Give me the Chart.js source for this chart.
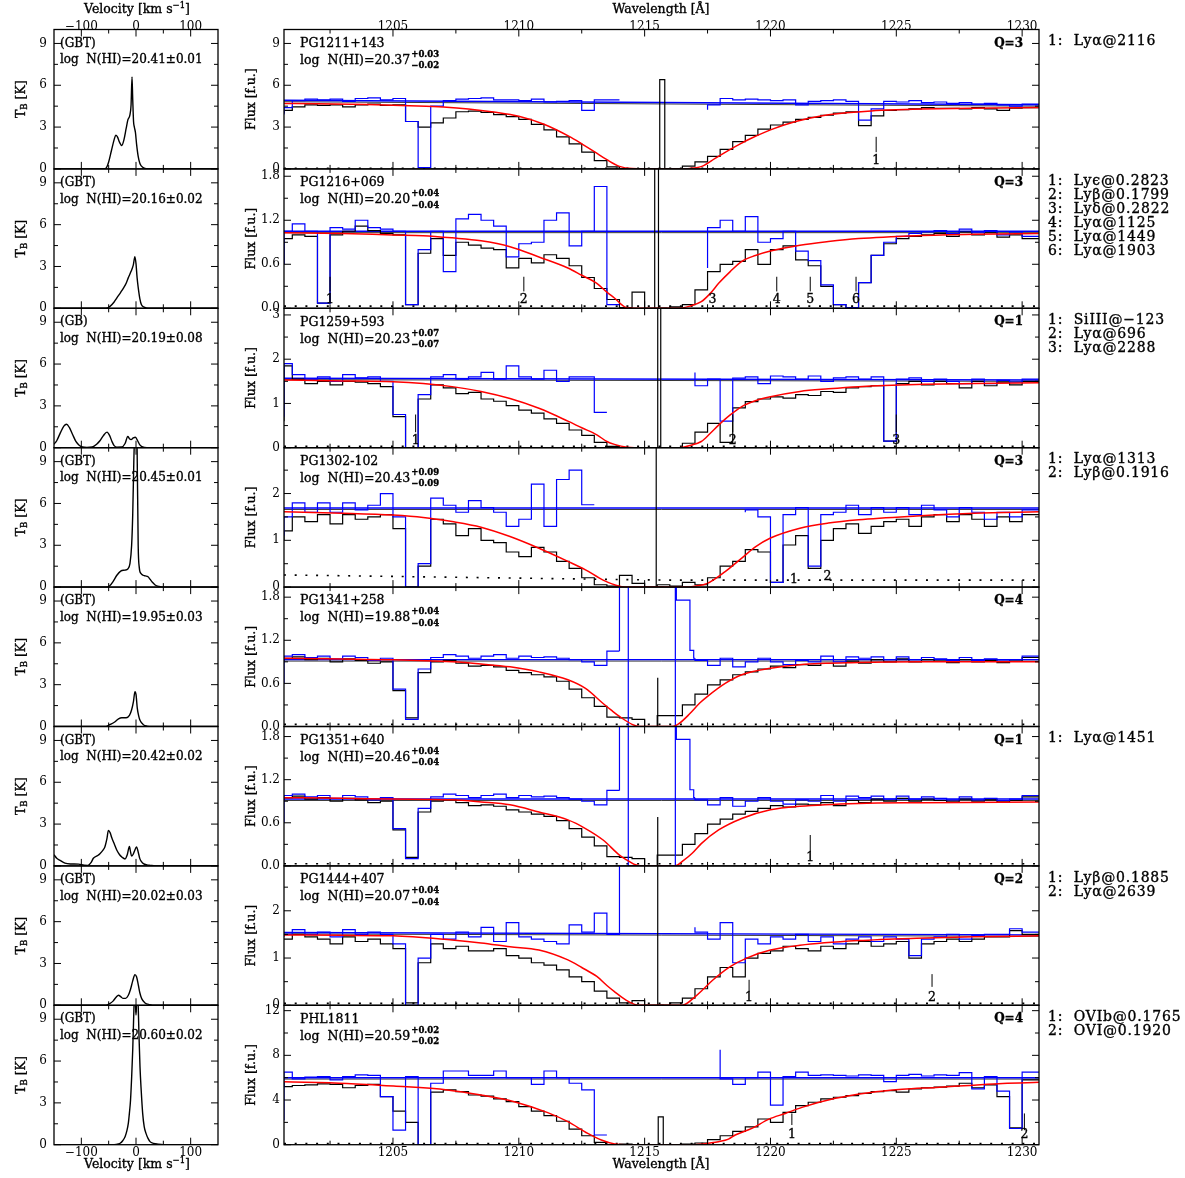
<!DOCTYPE html>
<html>
<head>
<meta charset="utf-8">
<script src="https://cdn.jsdelivr.net/npm/chart.js@4.4.1/dist/chart.umd.min.js"></script>
<style>
  body { margin: 0; background: #fff; width: 1185px; height: 1178px; position: relative; overflow: hidden; }
  canvas { position: absolute; }
</style>
</head>
<body>
<script>
// ---- layout of the 8 rows (page pixels) ----
const ROW_TOP = 29.5, ROW_H = 139.4;
const FONT = '"DejaVu Serif", "Liberation Serif", serif';

// ---- axes ----
const V_MIN = -150, V_MAX = 150;
const W_MIN = 1200.67, W_MAX = 1230.67;
const velTicks = [-100, 0, 100], velMinor = [-50, 50];
const tbTicks = [0, 3, 6, 9], tbMinor = [1.5, 4.5, 7.5];
const waveTicks = [1205, 1210, 1215, 1220, 1225, 1230];
const waveMinor = [1202.5, 1207.5, 1212.5, 1217.5, 1222.5, 1227.5];

// histogram bin left edges: first partial bin, then 0.5 A bins
const BIN_LEFT = [W_MIN];
for (let k = 0; k < 60; k++) BIN_LEFT.push(1201 + 0.5 * k);

// ---- labels ----
const qsoNames = ['PG1211+143', 'PG1216+069', 'PG1259+593', 'PG1302-102', 'PG1341+258', 'PG1351+640', 'PG1444+407', 'PHL1811'];
const qsoLogN = ['20.37', '20.20', '20.23', '20.43', '19.88', '20.46', '20.07', '20.59'];
const qsoErrUp = ['+0.03', '+0.04', '+0.07', '+0.09', '+0.04', '+0.04', '+0.04', '+0.02'];
const qsoErrDn = ['\u22120.02', '\u22120.04', '\u22120.07', '\u22120.09', '\u22120.04', '\u22120.04', '\u22120.04', '\u22120.02'];
const qualities = ['Q=3', 'Q=3', 'Q=1', 'Q=3', 'Q=4', 'Q=1', 'Q=2', 'Q=4'];
const radioTel = ['(GBT)', '(GBT)', '(GB)', '(GBT)', '(GBT)', '(GBT)', '(GBT)', '(GBT)'];
const radioLogN = ['20.41\u00b10.01', '20.16\u00b10.02', '20.19\u00b10.08', '20.45\u00b10.01', '19.95\u00b10.03', '20.42\u00b10.02', '20.02\u00b10.03', '20.60\u00b10.02'];
const lineIds = [
  ['1:  Ly\u03b1@2116'],
  ['1:  Ly\u03f5@0.2823', '2:  Ly\u03b2@0.1799', '3:  Ly\u03b4@0.2822', '4:  Ly\u03b1@1125', '5:  Ly\u03b1@1449', '6:  Ly\u03b1@1903'],
  ['1:  SiIII@\u2212123', '2:  Ly\u03b1@696', '3:  Ly\u03b1@2288'],
  ['1:  Ly\u03b1@1313', '2:  Ly\u03b2@0.1916'],
  [],
  ['1:  Ly\u03b1@1451'],
  ['1:  Ly\u03b2@0.1885', '2:  Ly\u03b1@2639'],
  ['1:  OVIb@0.1765', '2:  OVI@0.1920']
];

// ---- flux axes of the spectra ----
const fluxMax = [10, 1.9, 3.15, 2.98, 1.94, 1.94, 2.95, 12.48];
const fluxTicks = [[0, 3, 6, 9], [0, 0.6, 1.2, 1.8], [0, 1, 2, 3], [0, 1, 2], [0, 0.6, 1.2, 1.8], [0, 0.6, 1.2, 1.8], [0, 1, 2], [0, 4, 8, 12]];
const fluxMinor = [[1.5, 4.5, 7.5], [0.3, 0.9, 1.5], [0.5, 1.5, 2.5], [0.5, 1.5, 2.5], [0.3, 0.9, 1.5], [0.3, 0.9, 1.5], [0.5, 1.5, 2.5], [2, 6, 10]];
const fluxDigits = [0, 1, 0, 0, 1, 1, 0, 0];
const contLevel = [[4.92, 4.6], [1.05, 1.05], [1.57, 1.53], [1.69, 1.69], [0.93, 0.93], [0.93, 0.93], [1.54, 1.49], [6.0, 6.0]];
const errLevel = [[0.05, 0.05, 0.05], [0.03, 0.03, 0.03], [0.03, 0.03, 0.03], [0.26, 0.15, 0.15], [0.03, 0.03, 0.03], [0.03, 0.03, 0.03], [0.04, 0.04, 0.04], [0.1, 0.1, 0.1]];

// ---- observed flux (black), bins of BIN_LEFT ----
const flux1 = [4.0,
  4.2, 4.45, 4.6, 4.55, 4.6, 4.45, 4.6, 4.65, 4.55, 4.6,
  3.4, 3.0, 3.3, 3.65, 4.1, 4.15, 4.05, 3.9, 3.75, 3.55,
  3.2, 2.8, 2.3, 1.8, 1.2, 0.6, 0.15, 0.02, 0, 0,
  0, 0.02, 0.2, 0.5, 0.9, 1.4, 1.95, 2.4, 2.85, 3.15,
  3.35, 3.55, 3.7, 3.85, 4.0, 4.1, 3.1, 3.8, 4.2, 4.25,
  4.3, 4.4, 4.35, 4.35, 4.3, 4.4, 4.3, 4.2, 4.35, 4.4];
const flux2 = [0.6,
  0.95, 1.0, 0.98, 0.07, 1.0, 1.05, 1.12, 1.06, 1.02, 1.0,
  0.05, 0.75, 0.95, 0.72, 0.9, 0.86, 0.82, 0.8, 0.55, 0.68,
  0.62, 0.73, 0.68, 0.58, 0.42, 0.27, 0.12, 0.01, 0.22, 0,
  0, 0.02, 0.05, 0.25, 0.5, 0.6, 0.64, 0.8, 0.6, 0.8,
  0.85, 0.66, 0.58, 0.3, 0.05, 0.01, 0.35, 0.72, 0.88, 0.95,
  0.98, 1.0, 1.02, 0.98, 1.04, 1.0, 1.03, 0.97, 1.0, 0.95];
const flux3 = [0.6,
  1.85, 1.55, 1.45, 1.5, 1.42, 1.5, 1.48, 1.45, 1.38, 0.7,
  0, 1.1, 1.42, 1.35, 1.22, 1.25, 1.1, 1.05, 0.95, 0.85,
  0.78, 0.65, 0.55, 0.4, 0.28, 0.12, 0.03, 0, 0, 0,
  0, 0, 0.1, 0.35, 0.55, 0.12, 0.9, 1.04, 1.1, 1.15,
  1.12, 1.2, 1.18, 1.27, 1.25, 1.35, 1.38, 1.4, 0.15, 1.45,
  1.5, 1.42, 1.5, 1.45, 1.35, 1.5, 1.4, 1.48, 1.42, 1.5];
const flux4 = [1.0,
  1.2, 1.5, 1.4, 1.55, 1.35, 1.55, 1.45, 1.5, 1.55, 1.25,
  0, 0.45, 1.45, 1.35, 1.1, 1.25, 1.0, 0.95, 0.75, 0.65,
  0.85, 0.75, 0.55, 0.4, 0.2, 0.05, 0.02, 0.25, 0.08, 0,
  0.05, 0.02, 0.1, 0.05, 0.2, 0.45, 0.55, 0.8, 0.75, 0.1,
  0.9, 1.1, 0.4, 1.0, 1.25, 1.35, 1.15, 1.3, 1.4, 1.45,
  1.3, 1.5, 1.55, 1.4, 1.55, 1.45, 1.3, 1.5, 1.4, 1.55];
const flux5 = [0.9,
  0.95, 0.97, 0.93, 0.95, 0.9, 0.94, 0.92, 0.88, 0.9, 0.5,
  0.12, 0.75, 0.9, 0.92, 0.88, 0.84, 0.85, 0.83, 0.78, 0.75,
  0.72, 0.69, 0.63, 0.52, 0.4, 0.28, 0.13, 0.12, 0.1, 0,
  0.15, 0.15, 0.3, 0.45, 0.58, 0.65, 0.72, 0.76, 0.8, 0.84,
  0.82, 0.86, 0.85, 0.88, 0.84, 0.91, 0.88, 0.93, 0.9, 0.94,
  0.9, 0.93, 0.91, 0.89, 0.93, 0.9, 0.92, 0.89, 0.91, 0.96];
const flux6 = flux5; // same spectrum plotted again with a different fit
const flux7 = [1.4,
  1.4, 1.5, 1.45, 1.4, 1.3, 1.45, 1.35, 1.4, 1.3, 1.2,
  0.05, 0.9, 1.3, 1.2, 1.25, 1.15, 1.15, 1.2, 1.05, 1.0,
  0.9, 0.85, 0.75, 0.6, 0.5, 0.3, 0.15, 0.05, 0.1, 0,
  0, 0.05, 0.15, 0.35, 0.6, 0.8, 0.6, 1.0, 1.1, 1.15,
  1.25, 1.2, 1.15, 1.25, 1.2, 1.3, 1.35, 1.25, 1.3, 1.35,
  1.0, 1.3, 1.35, 1.4, 1.35, 1.4, 1.45, 1.45, 1.58, 1.5];
const flux8 = [5.7,
  5.2, 5.3, 5.35, 5.45, 5.4, 5.1, 5.3, 5.4, 4.3, 3.0,
  2.0, 0, 4.7, 4.9, 4.75, 4.45, 4.35, 4.1, 3.85, 3.4,
  3.0, 2.6, 2.1, 1.4, 0.8, 0.2, 0.02, 0.05, 0, 0,
  0.02, 0.02, 0.05, 0.15, 0.45, 0.8, 1.2, 1.6, 2.3, 2.0,
  2.9, 3.5, 3.8, 4.1, 4.25, 4.4, 4.6, 4.75, 4.85, 4.7,
  5.0, 5.1, 5.15, 5.25, 5.5, 5.1, 5.35, 4.3, 1.5, 5.8];

// ---- flux divided by the damped profile (blue), null where undefined ----
const corr1 = [3.9,
  4.4, 4.9, 5.0, 4.95, 5.0, 4.85, 5.05, 5.1, 4.95, 5.05,
  3.4, 0.1, 4.5, 4.9, 5.0, 5.05, 5.1, 4.95, 4.95, 4.9,
  5.0, 4.8, 4.85, 4.9, 4.2, 4.95, 4.95, null, null, null,
  null, null, null, 4.25, 4.6, 5.05, 4.95, 5.0, 4.95, 4.9,
  4.95, 4.6, 4.85, 4.9, 4.95, 4.85, 3.5, 4.3, 4.85, 4.8,
  4.9, 4.75, 4.8, 4.7, 4.75, 4.65, 4.7, 4.6, 4.5, 4.65];
const corr2 = [0.6,
  1.05, 1.15, 1.05, 0.07, 1.1, 1.08, 1.2, 1.1, 1.08, 1.05,
  0.05, 0.8, 1.05, 0.5, 1.22, 1.28, 1.2, 1.12, 0.7, 0.88,
  0.9, 1.2, 1.3, 0.85, 1.05, 1.66, 0.05, null, null, null,
  null, null, null, 0.55, 1.1, 1.2, 1.05, 1.25, 0.9, 0.95,
  1.05, 0.78, 0.65, 0.32, 0.05, 0.01, 0.35, 0.72, 0.9, 0.98,
  1.02, 1.04, 1.06, 1.02, 1.08, 1.03, 1.06, 1.0, 1.04, 0.98];
const corr3 = [0.7,
  1.9, 1.65, 1.55, 1.6, 1.5, 1.65, 1.58, 1.6, 1.5, 0.75,
  0, 1.2, 1.6, 1.65, 1.55, 1.6, 1.7, 1.55, 1.85, 1.6,
  1.55, 1.75, 1.5, 1.6, 1.6, 0.8, null, null, null, null,
  null, null, 1.7, 1.4, 1.55, 0.6, 1.57, 1.6, 1.45, 1.62,
  1.6, 1.55, 1.62, 1.5, 1.58, 1.6, 1.55, 1.6, 0.15, 1.55,
  1.58, 1.5, 1.55, 1.5, 1.45, 1.55, 1.45, 1.52, 1.48, 1.55];
const corr4 = [1.1,
  1.5, 1.8, 1.6, 1.8, 1.6, 1.8, 1.65, 1.75, 2.0, 1.5,
  0, 0.5, 1.9, 1.75, 1.6, 1.85, 1.7, 1.6, 1.3, 1.45,
  2.2, 1.3, 2.3, 2.5, 1.76, null, null, null, null, null,
  null, null, null, null, null, null, 1.6, 1.65, 1.5, 0.1,
  1.55, 1.7, 0.45, 1.55, 1.6, 1.75, 1.55, 1.7, 1.6, 1.7,
  1.55, 1.75, 1.65, 1.5, 1.7, 1.6, 1.45, 1.6, 1.5, 1.65];
const corr5 = [0.6,
  0.98, 1.0, 0.96, 0.98, 0.94, 0.98, 0.96, 0.92, 0.95, 0.52,
  0.1, 0.8, 0.96, 1.0, 0.98, 0.95, 0.98, 1.0, 0.95, 0.98,
  0.96, 0.97, 0.95, 0.93, 0.9, 0.85, 1.05, null, null, null,
  null, null, 0.95, 0.92, 0.85, 0.95, 0.83, 0.9, 0.95, 0.9,
  0.86, 0.92, 0.9, 0.98, 0.9, 0.97, 0.95, 0.97, 0.93, 0.97,
  0.93, 0.96, 0.94, 0.92, 0.96, 0.92, 0.94, 0.91, 0.93, 0.98];
const corr6 = corr5;
const corr7 = [1.45,
  1.5, 1.6, 1.5, 1.55, 1.45, 1.6, 1.5, 1.55, 1.5, 1.3,
  0, 1.0, 1.5, 1.4, 1.55, 1.45, 1.65, 1.35, 1.75, 1.45,
  1.4, 1.35, 1.3, 1.7, 1.55, 1.95, 1.5, 5, null, null,
  null, null, 1.65, 1.55, 1.4, 1.75, 0.9, 1.4, 1.3, 1.45,
  1.4, 1.5, 1.35, 1.45, 1.3, 1.4, 1.45, 1.35, 1.45, 1.4,
  1.05, 1.4, 1.45, 1.5, 1.4, 1.48, 1.5, 1.5, 1.62, 1.55];
const corr8 = [2.2,
  6.5, 5.9, 6.05, 6.1, 5.8, 6.1, 6.25, 6.2, 4.3, 1.3,
  6.1, 0, 5.5, 6.6, 6.6, 6.2, 6.2, 6.6, 6.0, 6.0,
  5.4, 6.6, 6.0, 5.5, 4.9, 0.87, null, null, null, null,
  null, null, null, null, 8.5, 5.9, 5.4, 6.0, 6.5, 3.55,
  6.1, 6.5, 6.2, 6.25, 6.2, 6.15, 6.25, 6.2, 5.65, 6.2,
  6.3, 6.15, 6.25, 6.2, 6.45, 5.0, 6.1, 4.8, 1.45, 6.5];
// blue through the line core of PG1341+258 / PG1351+640 (runs off the top)
const coreW5 = [1214.0, 1214.35, 1216.22, 1216.26, 1216.8, 1216.95, 1217.0];
const coreF5 = [1.05, 3, 0, 3, 1.76, 1.06, 0.95];

// ---- geocoronal emission spikes (black) ----
const spikeW = [
  [1215.6, 1215.6, 1215.8, 1216.0], [1215.4, 1215.4, 1215.55, 1215.9], [1215.52, 1215.52, 1215.64, 1215.92],
  [1215.46, 1215.46, 1215.76], [1215.52, 1215.52, 1215.69], [1215.52, 1215.52, 1215.69],
  [1215.52, 1215.52, 1215.76], [1215.54, 1215.54, 1215.74, 1215.94]];
const spikeF = [
  [0, 5.35, 6.4, 0], [0, 0.59, 5, 0], [0, 1.27, 5, 0],
  [0, 5, 0], [0, 0.68, 0], [0, 0.68, 0],
  [0, 5, 0], [0, 1.46, 2.5, 0]];

// ---- damped Lya fits (red) ----
const fitW1 = [1200.67, 1202, 1204, 1206, 1207, 1208, 1209, 1210, 1211, 1212, 1212.5, 1213, 1213.5, 1214, 1214.5, 1215, 1216.3, 1216.8, 1217.3, 1217.8, 1218.3, 1218.8, 1219.3, 1220, 1221, 1222, 1223, 1224, 1225, 1226, 1228, 1230.67];
const fitF1 = [4.7, 4.68, 4.62, 4.52, 4.44, 4.3, 4.08, 3.78, 3.2, 2.33, 1.8, 1.24, 0.66, 0.18, 0.02, 0, 0, 0.03, 0.2, 0.75, 1.3, 1.8, 2.25, 2.8, 3.4, 3.8, 4.02, 4.16, 4.24, 4.29, 4.35, 4.4];
const fitW2 = [1200.67, 1203, 1205, 1206.2, 1207.35, 1208.5, 1209.65, 1210.8, 1211.95, 1212.5, 1213.1, 1213.5, 1213.8, 1214.26, 1214.6, 1216.3, 1216.8, 1217.25, 1217.6, 1217.94, 1218.4, 1218.86, 1219.4, 1220, 1221.17, 1222.3, 1223.5, 1225.8, 1228.1, 1230.67];
const fitF2 = [1.03, 1.02, 1.0, 0.99, 0.96, 0.92, 0.84, 0.7, 0.55, 0.45, 0.34, 0.22, 0.14, 0.01, 0, 0, 0.03, 0.09, 0.2, 0.34, 0.5, 0.64, 0.72, 0.78, 0.86, 0.91, 0.95, 0.99, 1.01, 1.02];
const fitW3 = [1200.67, 1203, 1205, 1206.2, 1207.35, 1208.5, 1209.65, 1210.8, 1211.95, 1212.5, 1213.1, 1213.5, 1213.8, 1214.3, 1214.6, 1216.4, 1216.8, 1217.25, 1217.6, 1217.94, 1218.4, 1218.86, 1219.4, 1220, 1221.17, 1222.3, 1223.5, 1225.8, 1228.1, 1230.67];
const fitF3 = [1.53, 1.51, 1.49, 1.45, 1.38, 1.27, 1.11, 0.89, 0.6, 0.45, 0.29, 0.14, 0.075, 0.01, 0, 0, 0.05, 0.14, 0.32, 0.51, 0.74, 0.93, 1.06, 1.15, 1.27, 1.33, 1.38, 1.43, 1.45, 1.47];
const fitW4 = [1200.67, 1203, 1205, 1206.2, 1207.35, 1208.5, 1209.65, 1210.8, 1211.95, 1212.65, 1213.35, 1214.0, 1214.5, 1216.6, 1217.0, 1217.5, 1218.2, 1218.86, 1219.4, 1220, 1221.17, 1222.3, 1223.5, 1225.8, 1228.1, 1230.67];
const fitF4 = [1.61, 1.58, 1.54, 1.49, 1.4, 1.28, 1.08, 0.83, 0.55, 0.37, 0.15, 0.02, 0, 0, 0.02, 0.08, 0.33, 0.62, 0.86, 1.05, 1.26, 1.37, 1.44, 1.52, 1.58, 1.61];
const fitW5 = [1200.67, 1203, 1205, 1207.35, 1208.5, 1209.65, 1210.8, 1211.95, 1212.65, 1213.35, 1213.7, 1214.0, 1214.5, 1214.8, 1216.1, 1216.4, 1216.8, 1217.2, 1217.5, 1218.2, 1218.86, 1220, 1221.17, 1223.5, 1226, 1230.67];
const fitF5 = [0.95, 0.94, 0.93, 0.9, 0.87, 0.83, 0.76, 0.65, 0.53, 0.32, 0.22, 0.14, 0.03, 0, 0, 0.05, 0.18, 0.33, 0.42, 0.6, 0.72, 0.81, 0.86, 0.89, 0.9, 0.9];
const fitW6 = [1200.67, 1203, 1205, 1207.35, 1208.5, 1209.65, 1210.8, 1211.95, 1212.65, 1213.35, 1214.0, 1214.3, 1214.6, 1214.9, 1216.2, 1216.56, 1216.9, 1217.25, 1217.94, 1218.86, 1220, 1221.17, 1223.5, 1226, 1230.67];
const fitF6 = [0.95, 0.94, 0.93, 0.92, 0.89, 0.85, 0.75, 0.64, 0.52, 0.36, 0.15, 0.08, 0.02, 0, 0, 0.08, 0.18, 0.31, 0.5, 0.66, 0.78, 0.83, 0.87, 0.88, 0.89];
const fitW7 = [1200.67, 1203, 1205, 1207.35, 1208.5, 1209.65, 1210.8, 1211.95, 1212.5, 1213.1, 1213.5, 1213.8, 1214.26, 1214.6, 1214.9, 1216.5, 1217.0, 1217.35, 1217.7, 1218.4, 1219.1, 1220, 1221.17, 1223.5, 1225.8, 1228.1, 1230.67];
const fitF7 = [1.49, 1.48, 1.47, 1.38, 1.32, 1.24, 1.17, 0.96, 0.8, 0.61, 0.42, 0.29, 0.11, 0.02, 0, 0, 0.18, 0.35, 0.53, 0.82, 1.01, 1.17, 1.27, 1.37, 1.42, 1.45, 1.47];
const fitW8 = [1200.67, 1203.17, 1205.03, 1207.16, 1208.5, 1209.82, 1211.15, 1211.95, 1212.74, 1213.28, 1213.81, 1214.2, 1217.0, 1217.26, 1217.6, 1217.93, 1218.33, 1218.6, 1219.26, 1219.92, 1220.59, 1221.25, 1222.58, 1223.91, 1225.24, 1226.57, 1227.9, 1229.23, 1230.67];
const fitF8 = [5.64, 5.49, 5.25, 4.9, 4.45, 3.85, 2.87, 2.06, 1.01, 0.42, 0.06, 0, 0, 0.05, 0.15, 0.27, 0.5, 0.87, 1.46, 2.27, 2.8, 3.34, 4.15, 4.66, 4.96, 5.13, 5.31, 5.49, 5.58];

// ---- absorption line markers ----
const markW = [[1224.2], [1202.5, 1210.2, 1217.7, 1220.25, 1221.58, 1223.4], [1205.9, 1218.5, 1225.0], [1220.93, 1222.27], [], [1221.58], [1219.15, 1226.42], [1220.85, 1230.09]];
const markLo = [[1.2], [0.23, 0.23, null, 0.23, 0.23, 0.23], [0.35, 0.35, 0.35], [null, null], [], [0.2], [0.29, 0.39], [1.76, 1.3]];
const markHi = [[2.3], [0.43, 0.43, null, 0.43, 0.43, 0.43], [0.75, 0.75, 0.75], [null, null], [], [0.43], [0.54, 0.66], [2.8, 2.8]];
const markY = [[0.6], [0.12, 0.12, 0.12, 0.12, 0.12, 0.12], [0.15, 0.15, 0.15], [0.15, 0.22], [], [0.12], [0.15, 0.15], [0.85, 0.85]];

// ---- 21 cm emission profiles ----
const vel1 = [-150, -60, -55, -50, -45, -40, -37, -34, -30, -26, -22, -18, -15, -11, -9, -7.3, -6, -4.5, -3, -1, 1, 4, 7, 10, 15, 22, 150];
const tb1 = [0, 0, 0.05, 0.5, 1.3, 2.1, 2.42, 2.3, 1.9, 1.68, 2.1, 2.9, 3.5, 3.9, 4.6, 6.6, 5.0, 3.4, 3.0, 2.6, 1.8, 0.9, 0.4, 0.2, 0.05, 0, 0];
const vel2 = [-150, -55, -48, -40, -35, -28, -23, -18, -14, -9, -5, -2, 0, 2, 4, 7, 10, 15, 22, 150];
const tb2 = [0, 0, 0.12, 0.45, 0.75, 1.15, 1.45, 1.8, 2.2, 2.65, 3.1, 3.7, 3.2, 2.2, 1.5, 0.7, 0.25, 0.08, 0, 0];
const vel3 = [-150, -145, -138, -132, -127, -122, -116, -110, -104, -98, -90, -80, -72, -66, -60, -53, -48, -44, -40, -35, -26, -20, -15, -12, -9, -5, -1, 3, 7, 12, 20, 150];
const tb3 = [0.25, 0.5, 1.1, 1.55, 1.68, 1.45, 0.95, 0.45, 0.18, 0.05, 0.02, 0.05, 0.25, 0.5, 0.85, 1.12, 0.85, 0.45, 0.15, 0.04, 0.05, 0.3, 0.8, 0.65, 0.58, 0.7, 0.75, 0.5, 0.2, 0.05, 0, 0];
const vel4 = [-150, -55, -48, -42, -35, -28, -20, -15, -11, -8, -6, -4, -2, 0, 2, 4, 6, 9, 13, 17, 22, 26, 30, 35, 42, 50, 150];
const tb4 = [0, 0, 0.1, 0.4, 0.85, 1.15, 1.22, 1.3, 1.7, 3.0, 5.2, 9, 11.5, 12, 10, 3.0, 1.4, 0.98, 0.85, 0.8, 0.74, 0.55, 0.35, 0.15, 0.04, 0, 0];
const vel5 = [-150, -55, -48, -39, -32, -26, -18, -12, -8, -4.6, -2, 0, 2.4, 5, 7.3, 13.5, 20, 30, 150];
const tb5 = [0, 0, 0.13, 0.32, 0.55, 0.63, 0.63, 0.8, 1.2, 1.8, 2.5, 2.3, 1.3, 0.75, 0.45, 0.13, 0.03, 0, 0];
const vel6 = [-150, -145, -139, -130, -120, -105, -95, -88, -82, -78, -70, -66, -60, -57, -53, -50.5, -47, -44.6, -40, -35, -30, -26, -20, -16, -12, -10, -8, -5, -3, 1, 4, 7, 10, 13.5, 20, 26, 35, 150];
const tb6 = [0.8, 0.55, 0.4, 0.2, 0.14, 0.13, 0.05, 0.04, 0.25, 0.55, 0.75, 0.88, 1.15, 1.36, 2.0, 2.55, 2.35, 2.05, 1.6, 1.12, 0.8, 0.64, 0.5, 0.8, 1.4, 1.0, 0.7, 0.85, 1.04, 1.36, 1.0, 0.52, 0.3, 0.16, 0.07, 0.04, 0, 0];
const vel7 = [-150, -55, -48, -42, -36, -32, -28, -24, -19, -14, -10, -6, -2, 1, 4.3, 7, 10.4, 16.5, 25, 35, 150];
const tb7 = [0, 0, 0.12, 0.3, 0.6, 0.72, 0.62, 0.5, 0.5, 0.72, 1.15, 1.75, 2.2, 2.05, 1.45, 0.9, 0.48, 0.17, 0.05, 0, 0];
const vel8 = [-150, -40, -32, -29, -24, -20, -17, -14, -12, -10, -8, -6, -4, -2.5, -1, 0, 1, 2.5, 4, 5.5, 7.3, 9.5, 12.2, 15, 18.3, 22, 25.7, 32, 40, 50, 150];
const tb8 = [0, 0, 0.05, 0.1, 0.3, 0.57, 0.95, 1.55, 2.3, 3.2, 4.8, 6.8, 9.5, 11, 10.2, 9.3, 10.2, 11, 10, 7.8, 5.6, 3.9, 2.25, 1.3, 0.81, 0.45, 0.22, 0.1, 0.04, 0, 0];

const velData = [[vel1, tb1], [vel2, tb2], [vel3, tb3], [vel4, tb4], [vel5, tb5], [vel6, tb6], [vel7, tb7], [vel8, tb8]];
const fluxData = [flux1, flux2, flux3, flux4, flux5, flux6, flux7, flux8];
const corrData = [corr1, corr2, corr3, corr4, corr5, corr6, corr7, corr8];
const fitData = [[fitW1, fitF1], [fitW2, fitF2], [fitW3, fitF3], [fitW4, fitF4], [fitW5, fitF5], [fitW6, fitF6], [fitW7, fitF7], [fitW8, fitF8]];

// ---------------------------------------------------------------
const zip = (xs, ys) => xs.map((x, i) => ({ x: x, y: ys[i] }));
function histPoints(vals) {
  const pts = vals.map((v, k) => ({ x: BIN_LEFT[k], y: v }));
  pts.push({ x: W_MAX, y: vals[vals.length - 1] });
  return pts;
}
const fnt = (size, weight) => (weight || 'normal') + ' ' + size + 'px ' + FONT;

// text with a hairline stroke, closer to the heavy plotter lettering
function txt(ctx, s, x, y, size, align, weight, spacing) {
  ctx.font = fnt(size, weight);
  ctx.textAlign = align || 'left';
  ctx.textBaseline = 'middle';
  ctx.letterSpacing = spacing || '0px';
  ctx.lineWidth = 0.35;
  ctx.fillText(s, x, y);
  ctx.strokeText(s, x, y);
  const w = ctx.measureText(s).width;
  ctx.letterSpacing = '0px';
  return w;
}
// sequence of text pieces; each piece [text, size, dy]
function richLine(ctx, pieces, x, y) {
  let cx = x;
  pieces.forEach(([s, size, dy]) => {
    cx += txt(ctx, s, cx, y + dy, size);
  });
  return cx - x;
}
function richWidth(ctx, pieces) {
  let w = 0;
  pieces.forEach(([s, size]) => { ctx.font = fnt(size); w += ctx.measureText(s).width; });
  return w;
}
function centeredRich(ctx, pieces, cx, cy, rotate) {
  ctx.save();
  ctx.translate(cx, cy);
  if (rotate) ctx.rotate(-Math.PI / 2);
  richLine(ctx, pieces, -richWidth(ctx, pieces) / 2, 0);
  ctx.restore();
}

function framePlugin(info) {
  return {
    id: 'pgframe',
    afterDatasetsDraw(chart) {
      const ctx = chart.ctx, a = chart.chartArea;
      const xs = chart.scales.x, ys = chart.scales.y;
      ctx.save();
      ctx.strokeStyle = '#000';
      ctx.fillStyle = '#000';
      ctx.lineWidth = 1;
      ctx.beginPath();
      const seg = (x0, y0, x1, y1) => { ctx.moveTo(x0, y0); ctx.lineTo(x1, y1); };
      [[info.xMajor, 7], [info.xMinor, 4]].forEach(([vals, len]) => vals.forEach(v => {
        const px = xs.getPixelForValue(v);
        seg(px, a.bottom, px, a.bottom - len);
        seg(px, a.top, px, a.top + len);
      }));
      [[info.yMajor, 7], [info.yMinor, 4]].forEach(([vals, len]) => vals.forEach(v => {
        const py = ys.getPixelForValue(v);
        seg(a.left, py, a.left + len, py);
        seg(a.right, py, a.right - len, py);
      }));
      ctx.stroke();
      ctx.lineWidth = 1.3;
      ctx.strokeRect(a.left, a.top, a.right - a.left, a.bottom - a.top);
      info.draw(ctx, chart, xs, ys);
      ctx.restore();
    }
  };
}

function axisCfg(pos, min, max, ticks, show, size, labelFmt, pad) {
  return {
    type: 'linear', position: pos, min: min, max: max,
    grid: { display: false, drawTicks: false }, border: { display: false },
    ticks: { display: show, color: '#000', font: { family: FONT, size: 12 }, padding: pad, maxRotation: 0, autoSkip: false,
             callback: labelFmt },
    afterBuildTicks: s => { s.ticks = ticks.map(v => ({ value: v })); },
    afterFit: s => { if (pos === 'left') s.width = size; else s.height = size; }
  };
}

function makeCanvas(left, top, w, h) {
  const c = document.createElement('canvas');
  c.width = w; c.height = h;
  c.style.left = left + 'px'; c.style.top = top + 'px';
  c.style.width = w + 'px'; c.style.height = h + 'px';
  document.body.appendChild(c);
  return c;
}

const minusFmt = v => String(v).replace('-', '\u2212');

for (let i = 0; i < 8; i++) {
  const T = ROW_TOP + i * ROW_H, B = T + ROW_H;
  const cTop = Math.floor(T) - 32, cH = 215;
  const topH = T - cTop, botH = cTop + cH - B;
  const first = i === 0, last = i === 7;

  // ----- left: 21 cm profile -----
  const lLeft = 0, lW = 240;
  const [vel, tb] = velData[i];
  new Chart(makeCanvas(lLeft, cTop, lW, cH), {
    type: 'line',
    data: { datasets: [{
      data: zip(vel, tb), xAxisID: 'x', yAxisID: 'y',
      borderColor: '#000', borderWidth: 1.4, cubicInterpolationMode: 'monotone', pointRadius: 0
    }] },
    options: {
      responsive: false, animation: false, devicePixelRatio: 1, events: [],
      layout: { padding: { right: lW - 218, left: 0, top: 0, bottom: 0 } },
      plugins: { legend: { display: false }, tooltip: { enabled: false } },
      scales: {
        x: axisCfg('bottom', V_MIN, V_MAX, velTicks, last, botH, minusFmt, 1),
        xTop: axisCfg('top', V_MIN, V_MAX, velTicks, first, topH, minusFmt, -5),
        y: axisCfg('left', 0, 10, tbTicks, true, 54, v => String(v), 7)
      }
    },
    plugins: [framePlugin({
      xMajor: velTicks, xMinor: velMinor, yMajor: tbTicks, yMinor: tbMinor,
      draw(ctx) {
        const oy = -cTop;
        txt(ctx, radioTel[i], 60, T + 14 + oy, 12);
        txt(ctx, 'log  N(HI)=' + radioLogN[i], 60, T + 30.5 + oy, 12);
        centeredRich(ctx, [['T', 12.5, 0], ['B', 8.5, 3], [' [K]', 12.5, 0]], 22, T + ROW_H / 2 + oy, true);
        const vt = [['Velocity [km s', 12.5, 0], ['\u22121', 8.5, -4], [']', 12.5, 0]];
        if (first) centeredRich(ctx, vt, 137, 9.5 + oy, false);
        if (last) centeredRich(ctx, vt, 137, 1164.5 + oy, false);
      }
    })]
  });

  // ----- right: spectrum -----
  const rLeft = 222, rW = 1185 - 222;
  const ds = [];
  ds.push({ data: zip(fitData[i][0], fitData[i][1]), borderColor: '#ff0000', borderWidth: 1.5, cubicInterpolationMode: 'monotone' });
  if (i === 4 || i === 5) ds.push({ data: zip(coreW5, coreF5), borderColor: '#0000ff', borderWidth: 1.2, stepped: 'after' });
  ds.push({ data: histPoints(corrData[i]), borderColor: '#0000ff', borderWidth: 1.2, stepped: 'after', spanGaps: false });
  ds.push({ data: zip(spikeW[i], spikeF[i]), borderColor: '#000', borderWidth: 1.2, stepped: 'after' });
  ds.push({ data: histPoints(fluxData[i]), borderColor: '#000', borderWidth: 1.2, stepped: 'after' });
  ds.push({ data: zip([W_MIN, W_MAX], contLevel[i]), borderColor: '#0000ff', borderWidth: 1.4 });
  ds.push({ data: zip([W_MIN, W_MAX], [contLevel[i][0] - 0.01 * fluxMax[i], contLevel[i][1] - 0.01 * fluxMax[i]]), borderColor: '#000', borderWidth: 0.8 });
  ds.push({ data: zip([W_MIN, 1215.67, W_MAX], errLevel[i]), borderColor: '#000', borderWidth: 1.6, borderDash: [2, 8.7] });
  ds.forEach(d => { d.xAxisID = 'x'; d.yAxisID = 'y'; d.pointRadius = 0; d.fill = false; });

  const digits = fluxDigits[i];
  new Chart(makeCanvas(rLeft, cTop, rW, cH), {
    type: 'line',
    data: { datasets: ds },
    options: {
      responsive: false, animation: false, devicePixelRatio: 1, events: [],
      layout: { padding: { right: rW - (1039 - rLeft), left: 0, top: 0, bottom: 0 } },
      plugins: { legend: { display: false }, tooltip: { enabled: false } },
      scales: {
        x: axisCfg('bottom', W_MIN, W_MAX, waveTicks, last, botH, v => String(v), 1),
        xTop: axisCfg('top', W_MIN, W_MAX, waveTicks, first, topH, v => String(v), -5),
        y: axisCfg('left', 0, fluxMax[i], fluxTicks[i], true, 284 - rLeft, v => Number(v).toFixed(digits), 4)
      }
    },
    plugins: [framePlugin({
      xMajor: waveTicks, xMinor: waveMinor, yMajor: fluxTicks[i], yMinor: fluxMinor[i],
      draw(ctx, chart, xs, ys) {
        const ox = -rLeft, oy = -cTop;
        // line markers
        markW[i].forEach((w, m) => {
          const px = xs.getPixelForValue(w);
          if (markLo[i][m] !== null) {
            ctx.lineWidth = 1;
            ctx.beginPath();
            ctx.moveTo(px, ys.getPixelForValue(markLo[i][m]));
            ctx.lineTo(px, ys.getPixelForValue(markHi[i][m]));
            ctx.stroke();
          }
          txt(ctx, String(m + 1), px, ys.getPixelForValue(markY[i][m]), 12.5, 'center');
        });
        // labels inside the panel
        txt(ctx, qsoNames[i], 300 + ox, T + 14 + oy, 12.5);
        const w = txt(ctx, 'log  N(HI)=' + qsoLogN[i], 300 + ox, T + 31 + oy, 12.5);
        txt(ctx, qsoErrUp[i], 300 + ox + w + 1, T + 25 + oy, 8.5, 'left', 'bold');
        txt(ctx, qsoErrDn[i], 300 + ox + w + 1, T + 36.5 + oy, 8.5, 'left', 'bold');
        txt(ctx, qualities[i], 1023 + ox, T + 14 + oy, 12, 'right', 'bold');
        // line identifications
        lineIds[i].forEach((s, k) => txt(ctx, s, 1048 + ox, T + 12 + 14 * k + oy, 14, 'left', 'normal', '0.8px'));
        centeredRich(ctx, [['Flux [f.u.]', 12.5, 0]], 252 + ox, T + ROW_H / 2 + oy, true);
        const wt = [['Wavelength [\u00c5]', 12.5, 0]];
        if (first) centeredRich(ctx, wt, 661 + ox, 9.5 + oy, false);
        if (last) centeredRich(ctx, wt, 661 + ox, 1164.5 + oy, false);
      }
    })]
  });
}
</script>
</body>
</html>
